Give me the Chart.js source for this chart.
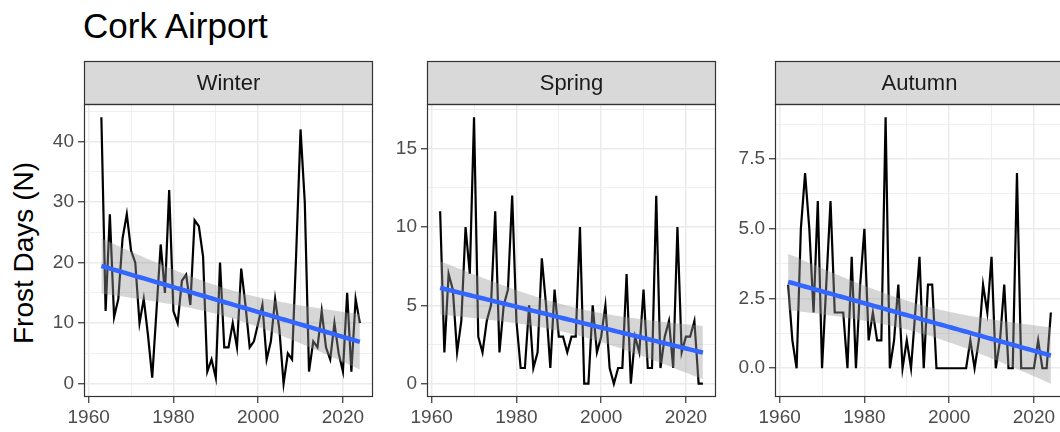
<!DOCTYPE html>
<html>
<head>
<meta charset="utf-8">
<script src="https://cdn.jsdelivr.net/npm/chart.js@4.4.1/dist/chart.umd.min.js"></script>
<style>
html,body{margin:0;padding:0;background:#fff;width:1060px;height:432px;overflow:hidden;position:relative;font-family:"Liberation Sans",Arial,Helvetica,sans-serif;}
.pane{position:absolute;top:55px;}
#title{position:absolute;left:83px;top:8px;font-size:35px;line-height:1;color:#000;white-space:nowrap;}
#ylab{position:absolute;left:24px;top:253px;font-size:28px;line-height:1;color:#000;white-space:nowrap;transform:translate(-50%,-50%) rotate(-90deg);}
</style>
</head>
<body>
<div id="title">Cork Airport</div>
<div id="ylab">Frost Days (N)</div>
<div class="pane" id="p0"><canvas id="c0"></canvas></div>
<div class="pane" id="p1"><canvas id="c1"></canvas></div>
<div class="pane" id="p2"><canvas id="c2"></canvas></div>
<script>
// ---------------- data ----------------
const seasons = ["Winter", "Spring", "Autumn"];

const yearsWinter = [1963,1964,1965,1966,1967,1968,1969,1970,1971,1972,
  1973,1974,1975,1976,1977,1978,1979,1980,1981,1982,
  1983,1984,1985,1986,1987,1988,1989,1990,1991,1992,
  1993,1994,1995,1996,1997,1998,1999,2000,2001,2002,
  2003,2004,2005,2006,2007,2008,2009,2010,2011,2012,
  2013,2014,2015,2016,2017,2018,2019,2020,2021,2022,
  2023,2024];
const frostWinter = [44,12,28,11,14,24,28,22,20,10,
  14,8,1,12,23,15,32,12,10,17,
  18,13,27,26,21,2,4,1,20,6,
  6,10,6,19,13,6,7,10,13,4,
  7,14,9,0,5,4,22,42,30,2,
  7,6,12,6,4,10,5,2,15,2,
  14,10];

const yearsSpringAutumn = [1962,1963,1964,1965,1966,1967,1968,1969,1970,1971,
  1972,1973,1974,1975,1976,1977,1978,1979,1980,1981,
  1982,1983,1984,1985,1986,1987,1988,1989,1990,1991,
  1992,1993,1994,1995,1996,1997,1998,1999,2000,2001,
  2002,2003,2004,2005,2006,2007,2008,2009,2010,2011,
  2012,2013,2014,2015,2016,2017,2018,2019,2020,2021,
  2022,2023,2024];
const frostSpring = [11,2,7,6,2,4,10,7,17,3,
  2,4,5,11,2,5,6,12,4,1,
  1,5,1,2,8,5,1,6,3,3,
  2,3,3,10,0,0,5,2,3,5,
  1,0,1,1,7,0,3,2,6,1,
  1,12,1,3,4,1,10,2,3,3,
  4,0,0];
const frostAutumn = [3,1,0,5,7,5,2,6,0,3,
  6,2,2,2,0,4,0,3,5,1,
  2,1,1,9,0,1,3,0,1,0,
  2,4,0,3,3,0,0,0,0,0,
  0,0,0,1,0,1,3,2,4,0,
  1,3,0,0,7,0,0,0,0,1,
  0,0,2];

const xTickLabels = [1960, 1980, 2000, 2020];
const yTicksWinter = [0, 10, 20, 30, 40];
const yTicksSpring = [0, 5, 10, 15];
const yTicksAutumn = [0, 2.5, 5, 7.5];
const yTickDecimals = [0, 0, 1];

// ---------------- helpers ----------------
const FONT = '"Liberation Sans", Arial, Helvetica, sans-serif';
const PANEL_TOP = 104, PANEL_BOTTOM = 397, CANVAS_TOP = 55, CANVAS_H = 432 - 55;
const STRIP_H = 43;
const X_AXIS_H = PANEL_BOTTOM - CANVAS_TOP;

// linear model + 95% confidence band (like geom_smooth(method = "lm"))
function lmBand(xs, ys, nOut) {
  const n = xs.length;
  const xbar = xs.reduce((a, b) => a + b, 0) / n;
  const ybar = ys.reduce((a, b) => a + b, 0) / n;
  let sxx = 0, sxy = 0;
  for (let i = 0; i < n; i++) { sxx += (xs[i] - xbar) ** 2; sxy += (xs[i] - xbar) * (ys[i] - ybar); }
  const b = sxy / sxx, a = ybar - b * xbar;
  let sse = 0;
  for (let i = 0; i < n; i++) sse += (ys[i] - a - b * xs[i]) ** 2;
  const s = Math.sqrt(sse / (n - 2));
  const t = 2.0;
  const x0 = Math.min(...xs), x1 = Math.max(...xs);
  const fit = [], lo = [], hi = [];
  for (let k = 0; k < nOut; k++) {
    const x = x0 + (x1 - x0) * k / (nOut - 1);
    const yh = a + b * x;
    const se = s * Math.sqrt(1 / n + (x - xbar) ** 2 / sxx);
    fit.push({x, y: yh}); lo.push({x, y: yh - t * se}); hi.push({x, y: yh + t * se});
  }
  return {fit, lo, hi};
}

function withMinor(major, lo, hi) {
  const step = major[1] - major[0];
  const out = [];
  const start = major[0] - step, end = major[major.length - 1] + step;
  for (let v = start; v <= end + 1e-9; v += step / 2) {
    const r = Math.round(v * 1000) / 1000;
    if (r >= lo && r <= hi) out.push(r);
  }
  return out;
}

const allX = yearsWinter.concat(yearsSpringAutumn);
const XMIN_D = Math.min(...allX), XMAX_D = Math.max(...allX);
const XPAD = (XMAX_D - XMIN_D) * 0.05;
const XMIN = XMIN_D - XPAD, XMAX = XMAX_D + XPAD;

const decoPlugin = {
  id: 'panelDeco',
  afterDraw(chart, args, opts) {
    const {ctx, chartArea: a} = chart;
    const L = Math.round(a.left) + 0.5, R = Math.round(a.right) - 0.5;
    const T = Math.round(a.top) + 0.5, B = Math.round(a.bottom) - 0.5;
    ctx.save();
    ctx.fillStyle = '#d9d9d9';
    ctx.fillRect(L, T - STRIP_H, R - L, STRIP_H);
    ctx.strokeStyle = '#333333';
    ctx.lineWidth = 1.2;
    ctx.strokeRect(L, T - STRIP_H, R - L, STRIP_H);
    ctx.strokeRect(L, T, R - L, B - T);
    ctx.fillStyle = '#1a1a1a';
    ctx.font = '22px ' + FONT;
    ctx.textAlign = 'center';
    ctx.textBaseline = 'middle';
    ctx.fillText(opts.label, (L + R) / 2, T - STRIP_H / 2 + 1);
    ctx.restore();
  }
};

const panels = [
  {years: yearsWinter, vals: frostWinter, ticks: yTicksWinter, left: 84, right: 373, yAxisW: 44},
  {years: yearsSpringAutumn, vals: frostSpring, ticks: yTicksSpring, left: 427, right: 716, yAxisW: 44},
  {years: yearsSpringAutumn, vals: frostAutumn, ticks: yTicksAutumn, left: 775, right: 1064, yAxisW: 50}
];

panels.forEach((p, i) => {
  const band = lmBand(p.years, p.vals, 80);
  const allY = p.vals.concat(band.lo.map(d => d.y), band.hi.map(d => d.y));
  const ymin0 = Math.min(...allY), ymax0 = Math.max(...allY);
  const ypad = (ymax0 - ymin0) * 0.05;
  const YMIN = ymin0 - ypad, YMAX = ymax0 + ypad;

  const xMajor = xTickLabels;
  const xAll = withMinor(xMajor, XMIN, XMAX);
  const yAll = withMinor(p.ticks, YMIN, YMAX);
  const isMajorX = v => xMajor.some(m => Math.abs(m - v) < 1e-6);
  const isMajorY = v => p.ticks.some(m => Math.abs(m - v) < 1e-6);

  const padRight = 4;
  const W = (p.right - p.left) + p.yAxisW + padRight;
  const div = document.getElementById('p' + i);
  div.style.left = (p.left - p.yAxisW) + 'px';
  div.style.width = W + 'px';
  div.style.height = CANVAS_H + 'px';
  const cv = document.getElementById('c' + i);
  cv.width = W; cv.height = CANVAS_H;
  cv.style.width = W + 'px'; cv.style.height = CANVAS_H + 'px';

  const gridCommon = (isMajor) => ({
    color: '#ebebeb',
    lineWidth: ctx => (ctx.tick && isMajor(ctx.tick.value)) ? 1.5 : 0.8,
    tickColor: ctx => (ctx.tick && isMajor(ctx.tick.value)) ? '#333333' : 'rgba(0,0,0,0)',
    tickWidth: 1.2,
    tickLength: 6,
    drawTicks: true,
    drawOnChartArea: true
  });

  new Chart(cv, {
    type: 'line',
    data: {
      datasets: [
        {data: p.years.map((y, k) => ({x: y, y: p.vals[k]})), borderColor: '#000000', borderWidth: 2.2,
         pointRadius: 0, tension: 0, fill: false, order: 3},
        {data: band.hi, borderWidth: 0, borderColor: 'rgba(0,0,0,0)', backgroundColor: 'rgba(153,153,153,0.4)',
         pointRadius: 0, fill: '+1', order: 2},
        {data: band.lo, borderWidth: 0, borderColor: 'rgba(0,0,0,0)', pointRadius: 0, fill: false, order: 2},
        {data: band.fit, borderColor: '#3366FF', borderWidth: 4.5, pointRadius: 0, fill: false, order: 1}
      ]
    },
    options: {
      responsive: false, animation: false, maintainAspectRatio: false,
      devicePixelRatio: 1,
      layout: {padding: {top: PANEL_TOP - CANVAS_TOP, right: padRight, left: 0, bottom: 0}},
      plugins: {legend: {display: false}, tooltip: {enabled: false}, panelDeco: {label: seasons[i]}},
      scales: {
        x: {
          type: 'linear', min: XMIN, max: XMAX,
          afterBuildTicks: s => { s.ticks = xAll.map(v => ({value: v})); },
          afterFit: s => { s.height = CANVAS_H - X_AXIS_H; },
          border: {display: false},
          grid: gridCommon(isMajorX),
          ticks: {
            autoSkip: false, maxRotation: 0, padding: 3, color: '#4d4d4d',
            font: {family: FONT, size: 19},
            callback: v => isMajorX(v) ? String(v) : ''
          }
        },
        y: {
          type: 'linear', min: YMIN, max: YMAX,
          afterBuildTicks: s => { s.ticks = yAll.map(v => ({value: v})); },
          afterFit: s => { s.width = p.yAxisW; },
          border: {display: false},
          grid: gridCommon(isMajorY),
          ticks: {
            autoSkip: false, padding: 4, color: '#4d4d4d',
            font: {family: FONT, size: 19},
            callback: v => isMajorY(v) ? Number(v).toFixed(yTickDecimals[i]) : ''
          }
        }
      }
    },
    plugins: [decoPlugin]
  });
});
</script>
</body>
</html>
